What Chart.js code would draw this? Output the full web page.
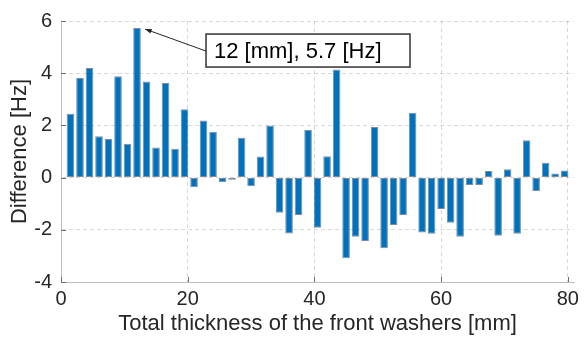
<!DOCTYPE html>
<html>
<head>
<meta charset="utf-8">
<script src="https://cdn.jsdelivr.net/npm/chart.js@4"></script>
<style>
  html, body { margin: 0; padding: 0; background: #ffffff; }
  canvas { display: block; }
</style>
</head>
<body>
<canvas id="diffChart" width="584" height="340"></canvas>
<script>
// Thickness of the front washers (x positions of the bars) in mm
const thickness = [
    1.5, 3, 4.5, 6, 7.5, 9, 10.5, 12, 13.5, 15, 16.5, 18, 19.5,
    21, 22.5, 24, 25.5, 27, 28.5, 30, 31.5, 33, 34.5, 36, 37.5, 39,
    40.5, 42, 43.5, 45, 46.5, 48, 49.5, 51, 52.5, 54, 55.5, 57, 58.5,
    60, 61.5, 63, 64.5, 66, 67.5, 69, 70.5, 72, 73.5, 75, 76.5, 78, 79.5
];

// Frequency difference in Hz for each thickness
const difference = [
    2.45, 3.82, 4.2, 1.58, 1.48, 3.88, 1.3, 5.73, 3.68, 1.15, 3.62, 1.11, 2.62,
    -0.37, 2.19, 1.76, -0.18, -0.08, 1.53, -0.33, 0.81, 2.0, -1.35, -2.14, -1.43, 1.82,
    -1.92, 0.82, 4.14, -3.09, -2.27, -2.43, 1.94, -2.71, -1.82, -1.43, 2.48, -2.1, -2.15,
    -1.2, -1.73, -2.27, -0.28, -0.28, 0.25, -2.23, 0.32, -2.15, 1.43, -0.51, 0.57, 0.16, 0.27
];

// Tick values of the two axes
const xTicks = [0, 20, 40, 60, 80];
const yTicks = [-4, -2, 0, 2, 4, 6];

// The data tip (the highest bar)
const tipX = 12;
const tipY = difference[thickness.indexOf(tipX)];

const textColor = '#262626';
const fontFamily = '"Liberation Sans", Arial, sans-serif';

// Small tick marks that point into the plot, like in MATLAB
const innerTicks = {
    id: 'innerTicks',
    afterDraw(chart) {
        const ctx = chart.ctx;
        const area = chart.chartArea;
        const xs = chart.scales.x;
        const ys = chart.scales.y;
        ctx.save();
        ctx.strokeStyle = '#6e6e6e';
        ctx.lineWidth = 1;
        ctx.beginPath();
        xTicks.forEach(v => {
            const px = Math.round(xs.getPixelForValue(v)) + 0.5;
            ctx.moveTo(px, area.bottom);
            ctx.lineTo(px, area.bottom - 5);
        });
        yTicks.forEach(v => {
            const py = Math.round(ys.getPixelForValue(v)) + 0.5;
            ctx.moveTo(area.left, py);
            ctx.lineTo(area.left + 5, py);
        });
        ctx.stroke();
        ctx.restore();
    }
};

// Data tip box with an arrow to the top of the bar
const dataTip = {
    id: 'dataTip',
    afterDatasetsDraw(chart) {
        const ctx = chart.ctx;
        const xs = chart.scales.x;
        const ys = chart.scales.y;
        const ax = xs.getPixelForValue(tipX) + 8;
        const ay = ys.getPixelForValue(tipY) + 1;
        const boxX = ax + 61;
        const boxY = ay + 5;
        const boxW = 204;
        const boxH = 33;
        const sx = boxX;
        const sy = boxY + 17;

        ctx.save();
        // arrow line
        ctx.strokeStyle = textColor;
        ctx.fillStyle = textColor;
        ctx.lineWidth = 1;
        ctx.beginPath();
        ctx.moveTo(sx, sy);
        ctx.lineTo(ax, ay);
        ctx.stroke();
        // arrow head
        const ang = Math.atan2(ay - sy, ax - sx);
        ctx.beginPath();
        ctx.moveTo(ax, ay);
        ctx.lineTo(ax - 7 * Math.cos(ang - 0.35), ay - 7 * Math.sin(ang - 0.35));
        ctx.lineTo(ax - 7 * Math.cos(ang + 0.35), ay - 7 * Math.sin(ang + 0.35));
        ctx.closePath();
        ctx.fill();
        // box
        ctx.fillStyle = '#ffffff';
        ctx.fillRect(boxX, boxY, boxW, boxH);
        ctx.strokeStyle = '#333333';
        ctx.lineWidth = 1.5;
        ctx.strokeRect(boxX, boxY, boxW, boxH);
        // text
        ctx.fillStyle = '#000000';
        ctx.font = '22px ' + fontFamily;
        ctx.textBaseline = 'middle';
        ctx.textAlign = 'left';
        ctx.fillText(tipX + ' [mm], ' + tipY.toFixed(1) + ' [Hz]', boxX + 8, boxY + boxH / 2 + 1);
        ctx.restore();
    }
};

const ctx = document.getElementById('diffChart').getContext('2d');
const chart = new Chart(ctx, {
    type: 'bar',
    data: {
        datasets: [{
            label: 'Difference',
            data: thickness.map((t, i) => ({ x: t, y: difference[i] })),
            backgroundColor: '#0072BD',
            borderColor: 'rgba(20, 45, 80, 0.55)',
            borderWidth: 1,
            borderSkipped: false,
            barPercentage: 0.8,
            categoryPercentage: 1.0
        }]
    },
    options: {
        responsive: false,
        devicePixelRatio: 1,
        animation: false,
        layout: { padding: { top: 18, right: 7, left: 0, bottom: 0 } },
        plugins: {
            legend: { display: false },
            tooltip: { enabled: false }
        },
        scales: {
            x: {
                type: 'linear',
                min: 0,
                max: 81,
                offset: false,
                afterBuildTicks: scale => { scale.ticks = xTicks.map(v => ({ value: v })); },
                afterFit: scale => { scale.height = 58; },
                grid: {
                    offset: false,
                    drawTicks: false,
                    color: c => c.tick && c.tick.value === 0 ? 'rgba(0,0,0,0)' : 'rgba(0,0,0,0.15)'
                },
                border: { display: true, color: '#bdbdbd', dash: [4, 3] },
                ticks: {
                    color: textColor,
                    font: { family: fontFamily, size: 20 },
                    padding: 5,
                    maxRotation: 0
                },
                title: {
                    display: true,
                    text: 'Total thickness of the front washers [mm]',
                    color: textColor,
                    font: { family: fontFamily, size: 22 },
                    padding: { top: 0, bottom: 3 }
                }
            },
            y: {
                min: -4,
                max: 6,
                afterBuildTicks: scale => { scale.ticks = yTicks.map(v => ({ value: v })); },
                afterFit: scale => { scale.width = 61; },
                grid: {
                    drawTicks: false,
                    color: c => c.tick && c.tick.value === -4 ? 'rgba(0,0,0,0)' : 'rgba(0,0,0,0.15)'
                },
                border: { display: true, color: '#bdbdbd', dash: [4, 3] },
                ticks: {
                    color: textColor,
                    font: { family: fontFamily, size: 20 },
                    padding: 9
                },
                title: {
                    display: true,
                    text: 'Difference [Hz]',
                    color: textColor,
                    font: { family: fontFamily, size: 22 },
                    padding: { top: 7, bottom: 0 }
                }
            }
        }
    },
    plugins: [innerTicks, dataTip]
});
</script>
</body>
</html>
